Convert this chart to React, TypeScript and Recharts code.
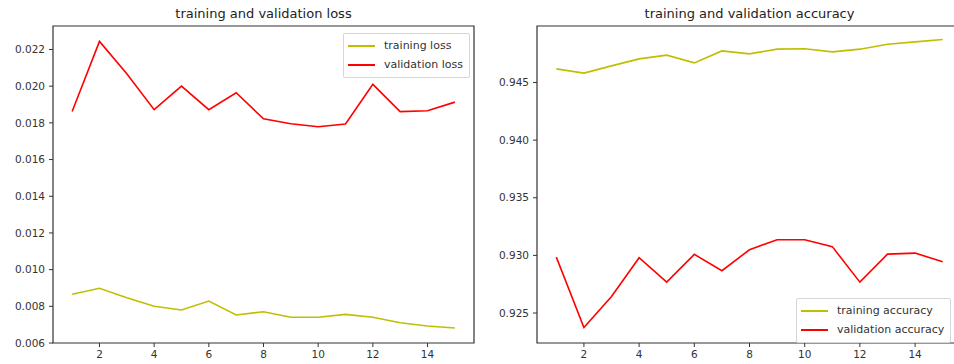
import * as React from "react";
import {
  LineChart,
  Line,
  XAxis,
  YAxis,
  ReferenceArea,
} from "recharts";

// epochs 1..15
const epochs = [1, 2, 3, 4, 5, 6, 7, 8, 9, 10, 11, 12, 13, 14, 15];

const trainLoss = [
  0.00866, 0.00898, 0.00847, 0.0080, 0.0078, 0.00829, 0.00753, 0.0077,
  0.0074, 0.0074, 0.00756, 0.0074, 0.0071, 0.00693, 0.00682,
];
const valLoss = [
  0.01862, 0.02244, 0.02068, 0.01872, 0.0200, 0.01872, 0.01964, 0.01822,
  0.01795, 0.01779, 0.01794, 0.0201, 0.01861, 0.01866, 0.01913,
];

const trainAcc = [
  0.94618, 0.94581, 0.94644, 0.94705, 0.94737, 0.9467, 0.94774, 0.94748,
  0.94789, 0.94792, 0.94766, 0.94789, 0.94832, 0.94852, 0.94873,
];
const valAcc = [
  0.92985, 0.92375, 0.92644, 0.9298, 0.92768, 0.93009, 0.92867, 0.93049,
  0.93136, 0.93136, 0.93076, 0.92768, 0.93011, 0.9302, 0.92945,
];

const xTicks = [2, 4, 6, 8, 10, 12, 14];
const lossTicks = [0.006, 0.008, 0.01, 0.012, 0.014, 0.016, 0.018, 0.02, 0.022];
const accTicks = [0.925, 0.93, 0.935, 0.94, 0.945];

const X_DOMAIN: [number, number] = [0.3, 15.7];
const LOSS_DOMAIN: [number, number] = [0.006, 0.02328];
const ACC_DOMAIN: [number, number] = [0.9224, 0.9499];

const YELLOW = "#bfbf00";
const RED = "#ff0000";
const INK = "#333";
const FONT = "'DejaVu Sans', sans-serif";

const lossRows = epochs.map((e, i) => ({ epoch: e, train: trainLoss[i], val: valLoss[i] }));
const accRows = epochs.map((e, i) => ({ epoch: e, train: trainAcc[i], val: valAcc[i] }));

function LegendBox({ labels, style }: { labels: string[]; style: React.CSSProperties }) {
  const colors = [YELLOW, RED];
  return (
    <div
      style={{
        position: "absolute",
        background: "rgba(255,255,255,0.85)",
        border: "1px solid #d6d6d6",
        borderRadius: 2,
        padding: "3px 6px 3px 4px",
        fontFamily: FONT,
        fontSize: 11,
        color: INK,
        lineHeight: "18.5px",
        whiteSpace: "nowrap",
        ...style,
      }}
    >
      {labels.map((l, i) => (
        <div key={l} style={{ display: "flex", alignItems: "center" }}>
          <span
            style={{
              display: "inline-block",
              width: 27,
              height: 2,
              background: colors[i],
              marginRight: 9,
            }}
          />
          {l}
        </div>
      ))}
    </div>
  );
}

function Panel({
  rows,
  yDomain,
  yTicks,
  yWidth,
  width,
  left,
  title,
  labels,
  legendStyle,
}: {
  rows: { epoch: number; train: number; val: number }[];
  yDomain: [number, number];
  yTicks: number[];
  yWidth: number;
  width: number;
  left: number;
  title: string;
  labels: string[];
  legendStyle: React.CSSProperties;
}) {
  const rightMargin = 8;
  const plotCenter = yWidth + (width - yWidth - rightMargin) / 2;
  const tick = { fontSize: 10.5, fill: INK, fontFamily: FONT };
  return (
    <div style={{ position: "absolute", left, top: 0, width, height: 364 }}>
      <div
        style={{
          position: "absolute",
          top: 6,
          left: plotCenter - 200,
          width: 400,
          textAlign: "center",
          fontFamily: FONT,
          fontSize: 13,
          color: "#222",
        }}
      >
        {title}
      </div>
      <LineChart
        width={width}
        height={364}
        data={rows}
        margin={{ top: 26, right: rightMargin, bottom: 0, left: 0 }}
      >
        <XAxis
          dataKey="epoch"
          type="number"
          domain={X_DOMAIN}
          ticks={xTicks}
          allowDataOverflow
          height={21}
          tickSize={4}
          tickMargin={4}
          tick={tick}
          stroke={INK}
          axisLine={false}
        />
        <YAxis
          type="number"
          domain={yDomain}
          ticks={yTicks}
          allowDataOverflow
          width={yWidth}
          tickSize={4}
          tickMargin={4}
          tick={tick}
          stroke={INK}
          axisLine={false}
          tickFormatter={(v: number) => v.toFixed(3)}
        />
        {/* plot frame */}
        <ReferenceArea
          x1={X_DOMAIN[0]}
          x2={X_DOMAIN[1]}
          y1={yDomain[0]}
          y2={yDomain[1]}
          fill="none"
          stroke={INK}
          strokeWidth={1.2}
        />
        <Line
          dataKey="train"
          stroke={YELLOW}
          strokeWidth={1.6}
          dot={false}
          isAnimationActive={false}
        />
        <Line
          dataKey="val"
          stroke={RED}
          strokeWidth={1.6}
          dot={false}
          isAnimationActive={false}
        />
      </LineChart>
      <LegendBox labels={labels} style={legendStyle} />
    </div>
  );
}

export default function App() {
  return (
    <div
      style={{
        position: "fixed",
        left: 0,
        top: 0,
        width: 954,
        height: 364,
        overflow: "hidden",
        background: "#fff",
      }}
    >
      <Panel
        rows={lossRows}
        yDomain={LOSS_DOMAIN}
        yTicks={lossTicks}
        yWidth={53}
        width={482}
        left={0}
        title="training and validation loss"
        labels={["training loss", "validation loss"]}
        legendStyle={{ left: 343, top: 33 }}
      />
      <Panel
        rows={accRows}
        yDomain={ACC_DOMAIN}
        yTicks={accTicks}
        yWidth={57}
        width={490}
        left={480}
        title="training and validation accuracy"
        labels={["training accuracy", "validation accuracy"]}
        legendStyle={{ left: 316, top: 298 }}
      />
    </div>
  );
}
